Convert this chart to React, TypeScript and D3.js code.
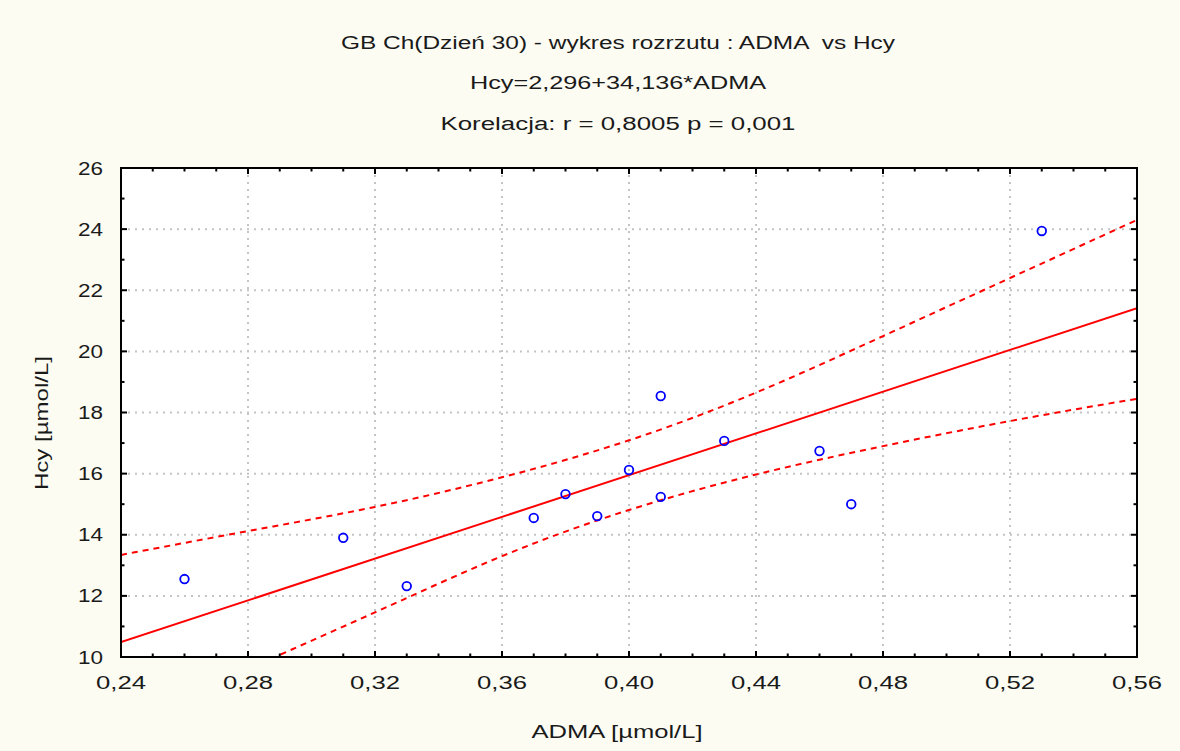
import React from 'react';
import * as d3 from 'd3';

// ADMA [µmol/L] vs Hcy [µmol/L]
const admaValues = [0.26, 0.31, 0.33, 0.37, 0.38, 0.39, 0.40, 0.41, 0.41, 0.43, 0.46, 0.47, 0.53];
const hcyValues = [12.55, 13.9, 12.32, 14.55, 15.33, 14.61, 16.12, 18.54, 15.24, 17.07, 16.74, 15.0, 23.94];

// regression line Hcy = 2,296 + 34,136 * ADMA
const intercept = 2.296;
const slope = 34.136;

// 95% confidence band
const bandX = [0.24, 0.28, 0.32, 0.36, 0.40, 0.44, 0.48, 0.52, 0.56];
const bandUpper = [13.34, 14.12, 14.91, 15.88, 17.09, 18.65, 20.5, 22.4, 24.3];
const bandLower = [7.65, 9.6, 11.46, 13.3, 14.81, 15.97, 16.9, 17.72, 18.45];

const xTicks = [0.24, 0.28, 0.32, 0.36, 0.40, 0.44, 0.48, 0.52, 0.56];
const yTicks = [10, 12, 14, 16, 18, 20, 22, 24, 26];

const titleLines = [
  'GB Ch(Dzień 30) - wykres rozrzutu : ADMA  vs Hcy',
  'Hcy=2,296+34,136*ADMA',
  'Korelacja: r = 0,8005 p = 0,001',
];
const xLabel = 'ADMA [µmol/L]';
const yLabel = 'Hcy [µmol/L]';

const W = 1180;
const H = 751;
const plot = { left: 121, right: 1137, top: 168, bottom: 657 };
const FONT = '"Liberation Sans", Arial, sans-serif';

const plFmt = d3.formatLocale({ decimal: ',', thousands: ' ', grouping: [3], currency: ['', ''] }).format('.2f');

export default function App() {
  const x = d3.scaleLinear().domain([0.24, 0.56]).range([plot.left, plot.right]);
  const y = d3.scaleLinear().domain([10, 26]).range([plot.bottom, plot.top]);

  const minorX = d3.range(24, 57).map((v) => v / 100);
  const minorY = d3.range(10, 27);

  const line = d3.line<[number, number]>().x((d) => x(d[0])).y((d) => y(d[1]));
  const curve = d3
    .line<[number, number]>()
    .curve(d3.curveNatural)
    .x((d) => x(d[0]))
    .y((d) => y(d[1]));

  const fitPts: [number, number][] = [0.24, 0.56].map((v) => [v, intercept + slope * v]);
  const upperPts = bandX.map((v, i) => [v, bandUpper[i]] as [number, number]);
  const lowerPts = bandX.map((v, i) => [v, bandLower[i]] as [number, number]);

  const titleWidths = [554, 296, 355];
  const titleBase = [49, 89, 130];

  return (
    <svg width={W} height={H} style={{ position: 'absolute', left: 0, top: 0, display: 'block' }} fontFamily={FONT}>
      <defs>
        <clipPath id="plotClip">
          <rect x={plot.left} y={plot.top} width={plot.right - plot.left} height={plot.bottom - plot.top} />
        </clipPath>
      </defs>
      <rect width={W} height={H} fill="#fcfcf3" />
      <rect x={plot.left} y={plot.top} width={plot.right - plot.left} height={plot.bottom - plot.top} fill="#ffffff" />

      {/* title */}
      {titleLines.map((t, i) => (
        <text
          key={t}
          x={618 - titleWidths[i] / 2}
          y={titleBase[i]}
          fontSize={18}
          textLength={titleWidths[i]}
          lengthAdjust="spacingAndGlyphs"
          fill="#1a1a1a"
          style={{ whiteSpace: 'pre' }}
        >
          {t}
        </text>
      ))}

      {/* grid */}
      <g stroke="#c4c4c4" strokeWidth={2} strokeDasharray="2,5">
        {xTicks.slice(1, -1).map((t) => (
          <line key={'gx' + t} x1={x(t)} x2={x(t)} y1={plot.top} y2={plot.bottom} />
        ))}
        {yTicks.slice(1, -1).map((t) => (
          <line key={'gy' + t} x1={plot.left} x2={plot.right} y1={y(t)} y2={y(t)} />
        ))}
      </g>

      {/* data and fit */}
      <g clipPath="url(#plotClip)" fill="none" stroke="#ff0000" strokeWidth={2}>
        <path d={line(fitPts) ?? ''} />
        <path d={curve(upperPts) ?? ''} strokeDasharray="6,5" />
        <path d={curve(lowerPts) ?? ''} strokeDasharray="6,5" />
      </g>
      <g fill="none" stroke="#0000ff" strokeWidth={1.8}>
        {admaValues.map((v, i) => (
          <circle key={i} cx={x(v)} cy={y(hcyValues[i])} r={4.3} />
        ))}
      </g>

      {/* ticks, all four sides, pointing in */}
      <g stroke="#000" strokeWidth={2}>
        {minorX.map((t) => {
          const major = xTicks.some((m) => Math.abs(m - t) < 1e-9);
          const len = major ? 6 : 3.5;
          return (
            <g key={'tx' + t}>
              <line x1={x(t)} x2={x(t)} y1={plot.bottom} y2={plot.bottom - len} />
              <line x1={x(t)} x2={x(t)} y1={plot.top} y2={plot.top + len} />
            </g>
          );
        })}
        {minorY.map((t) => {
          const major = t % 2 === 0;
          const len = major ? 6 : 3.5;
          return (
            <g key={'ty' + t}>
              <line x1={plot.left} x2={plot.left + len} y1={y(t)} y2={y(t)} />
              <line x1={plot.right} x2={plot.right - len} y1={y(t)} y2={y(t)} />
            </g>
          );
        })}
      </g>
      <rect
        x={plot.left}
        y={plot.top}
        width={plot.right - plot.left}
        height={plot.bottom - plot.top}
        fill="none"
        stroke="#000"
        strokeWidth={2}
      />

      {/* tick labels */}
      {xTicks.map((t) => (
        <text
          key={'lx' + t}
          x={x(t) - 25}
          y={689}
          fontSize={18}
          textLength={50}
          lengthAdjust="spacingAndGlyphs"
          fill="#1a1a1a"
        >
          {plFmt(t)}
        </text>
      ))}
      {yTicks.map((t) => (
        <text
          key={'ly' + t}
          x={103 - 25}
          y={y(t) + 6.5}
          fontSize={18}
          textLength={25}
          lengthAdjust="spacingAndGlyphs"
          fill="#1a1a1a"
        >
          {t}
        </text>
      ))}

      {/* axis titles */}
      <text x={617 - 85.5} y={738} fontSize={18} textLength={171} lengthAdjust="spacingAndGlyphs" fill="#1a1a1a">
        {xLabel}
      </text>
      <g transform="translate(48, 423) rotate(-90)">
        <text x={-67} y={0} fontSize={18} textLength={134} lengthAdjust="spacingAndGlyphs" fill="#1a1a1a">
          {yLabel}
        </text>
      </g>
    </svg>
  );
}
